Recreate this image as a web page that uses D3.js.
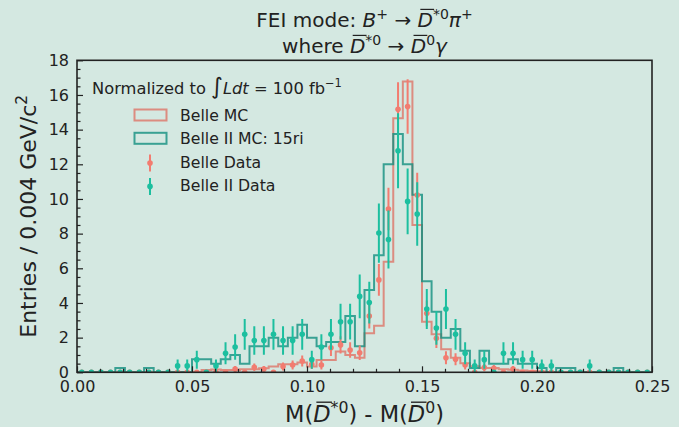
<!DOCTYPE html>
<html><head><meta charset="utf-8">
<script src="https://cdn.jsdelivr.net/npm/d3@7"></script>
<style>
html,body{margin:0;padding:0;background:#d4e8e1;}
svg{display:block;font-family:"DejaVu Sans",sans-serif;}
</style></head><body>
<svg id="chart" width="679" height="427"></svg>
<script>
// ---------------- data ----------------
const xDomain = [0, 0.25];
const nBins = 60;
const yDomain = [0, 18];
const xTicks = [0, 0.05, 0.10, 0.15, 0.20, 0.25];
const xTickLabels = ["0.00", "0.05", "0.10", "0.15", "0.20", "0.25"];
const yTicks = [0, 2, 4, 6, 8, 10, 12, 14, 16, 18];

const belleMC = [0,0,0,0,0,0,0,0,0,0, 0,0,0,0.13,0.16,0.13,0.13,0.17,0.17,0.23,
  0.33,0.46,0.46,0.56,0.33,0.71,0.71,1.2,1.0,0.84, 2.25,2.69,6.38,14.66,16.77,8.5,2.92,2.19,1.33,0.84,
  0.52,0.35,0.25,0.25,0.17,0.15,0.1,0.08,0.05,0, 0,0,0,0,0,0,0,0,0,0];
const belle2MC = [0,0,0,0,0.25,0,0,0.25,0,0, 0,0,0.75,0.75,0.5,0.75,1.0,0.5,1.5,1.5,
  2.0,1.5,2.0,2.75,2.0,1.5,1.75,1.75,3.25,1.5, 4.75,6.75,12.0,13.75,12.0,10.25,5.25,3.5,2.0,2.5,
  1.25,0.25,1.25,0.5,0.5,0.75,0.5,0.5,0.25,0, 0.25,0.25,0,0,0,0,0.25,0,0,0];
const belleData = [0,0,0,0,0,0,0,0,0,0, 0,0,0,0,0,0,0.19,0,0.29,0.19,
  0,0.33,0.42,0.65,0.46,0.42,1.42,1.58,1.29,1.13, 3.25,5.33,9.42,15.17,15.33,10.23,3.40,1.96,0.84,0.75,
  0.42,0,0.27,0.23,0,0.19,0,0,0,0, 0,0,0,0,0,0,0,0,0,0];
const belleErr = [0,0,0,0,0,0,0,0,0,0, 0,0,0,0,0,0,0.17,0,0.22,0.17,
  0,0.23,0.26,0.32,0.27,0.26,0.48,0.5,0.45,0.42, 0.72,0.92,1.23,1.56,1.57,1.28,0.74,0.56,0.37,0.35,
  0.26,0,0.21,0.19,0,0.17,0,0,0,0, 0,0,0,0,0,0,0,0,0,0];
const belle2Data = [0,0,0,0,0,0,0,0,0,0, 0.37,0.37,0.73,0,0.37,1.10,1.46,2.19,1.83,1.83,
  2.19,1.83,1.83,2.19,0.73,1.46,2.19,2.92,2.92,4.38, 4.02,8.03,7.66,12.78,9.86,9.13,3.65,2.56,3.65,2.19,
  1.10,0.37,0.73,0,1.10,1.10,0.73,0.73,0.37,0.37, 0,0,0,0.37,0,0,0,0,0,0];
const belle2Err = [0,0,0,0,0,0,0,0,0,0, 0.37,0.37,0.52,0,0.37,0.63,0.73,0.89,0.82,0.82,
  0.89,0.82,0.82,0.89,0.52,0.73,0.89,1.03,1.03,1.26, 1.21,1.71,1.67,2.16,1.90,1.83,1.15,0.97,1.15,0.89,
  0.63,0.37,0.52,0,0.63,0.63,0.52,0.52,0.37,0.37, 0,0,0,0.37,0,0,0,0,0,0];

// ---------------- layout ----------------
const W = 679, H = 427;
const L = 77, R = 652, T = 60.3, B = 372.3;
const cBelleMC = "#dd7468", cBelle2MC = "#128f80", histAlpha = 0.8;
const cBelleData = "#f27c70", cBelle2Data = "#1cbf9f";
const txt = "#222";

const svg = d3.select("#chart");
svg.append("rect").attr("width", W).attr("height", H).attr("fill", "#d4e8e1");

const x = d3.scaleLinear().domain(xDomain).range([L, R]);
const y = d3.scaleLinear().domain(yDomain).range([B, T]);
const bw = (xDomain[1] - xDomain[0]) / nBins;
const edges = d3.range(nBins + 1).map(i => xDomain[0] + i * bw);
const centers = d3.range(nBins).map(i => xDomain[0] + (i + 0.5) * bw);

svg.append("clipPath").attr("id", "clip").append("rect")
  .attr("x", L).attr("y", T).attr("width", R - L).attr("height", B - T);
const plot = svg.append("g").attr("clip-path", "url(#clip)");

function stepPts(vals) {
  const pts = [[edges[0], 0]];
  vals.forEach((v, i) => { pts.push([edges[i], v]); pts.push([edges[i + 1], v]); });
  pts.push([edges[nBins], 0]);
  return pts;
}
const line = d3.line().x(d => x(d[0])).y(d => y(d[1]));

plot.append("path").attr("d", line(stepPts(belleMC))).attr("fill", "none")
  .attr("stroke", cBelleMC).attr("stroke-opacity", histAlpha).attr("stroke-width", 2);
plot.append("path").attr("d", line(stepPts(belle2MC))).attr("fill", "none")
  .attr("stroke", cBelle2MC).attr("stroke-opacity", histAlpha).attr("stroke-width", 2);

function drawPoints(vals, errs, col) {
  const g = plot.append("g");
  g.selectAll("line").data(vals).join("line")
    .attr("x1", (d, i) => x(centers[i])).attr("x2", (d, i) => x(centers[i]))
    .attr("y1", (d, i) => y(d - errs[i])).attr("y2", (d, i) => y(d + errs[i]))
    .attr("stroke", col).attr("stroke-width", 2);
  g.selectAll("circle").data(vals).join("circle")
    .attr("cx", (d, i) => x(centers[i])).attr("cy", d => y(d)).attr("r", 2.8).attr("fill", col);
}
drawPoints(belleData, belleErr, cBelleData);
drawPoints(belle2Data, belle2Err, cBelle2Data);

// ---------------- axes ----------------
const ax = svg.append("g").attr("transform", `translate(0,${B})`)
  .call(d3.axisBottom(x).tickValues(xTicks).tickFormat((d, i) => xTickLabels[i]).tickSize(-6).tickPadding(8));
const axm = svg.append("g").attr("transform", `translate(0,${B})`)
  .call(d3.axisBottom(x).tickValues(d3.range(0, 26).map(i => i / 100).filter(v => Math.round(v * 100) % 5 !== 0)).tickFormat("").tickSize(-3.5));
const ay = svg.append("g").attr("transform", `translate(${L},0)`)
  .call(d3.axisLeft(y).tickValues(yTicks).tickFormat(d3.format("d")).tickSize(-6).tickPadding(8));
const aym = svg.append("g").attr("transform", `translate(${L},0)`)
  .call(d3.axisLeft(y).tickValues(d3.range(0, 37).map(i => i / 2).filter(v => v % 2 !== 0)).tickFormat("").tickSize(-3.5));
[ax, axm, ay, aym].forEach(a => {
  a.select(".domain").remove();
  a.selectAll(".tick line").attr("stroke", txt).attr("stroke-width", 1.2);
  a.selectAll(".tick text").attr("fill", txt).attr("font-size", 16).attr("font-family", "DejaVu Sans");
});
svg.append("rect").attr("x", L).attr("y", T).attr("width", R - L).attr("height", B - T)
  .attr("fill", "none").attr("stroke", txt).attr("stroke-width", 1.6);

// ---------------- rich text helper ----------------
function rich(parent, x0, y0, parts, size, anchor, rot) {
  const g = parent.append("g");
  if (rot) g.attr("transform", `rotate(${rot},${x0},${y0})`);
  const t = g.append("text").attr("x", x0).attr("y", y0).attr("font-size", size)
    .attr("text-anchor", anchor || "start").attr("fill", txt);
  let shift = 0;
  const ov = [];
  parts.forEach(p => {
    const ts = t.append("tspan").text(p.t);
    const target = p.sup ? -size * 0.42 : 0;
    ts.attr("font-size", p.sup ? size * 0.7 : (p.big ? size * 1.4 : size));
    if (target !== shift) { ts.attr("dy", target - shift); shift = target; }
    if (p.i) ts.attr("font-style", "italic");
    if (p.ov) ov.push(ts);
  });
  ov.forEach(ts => {
    const b = ts.node().getBBox();
    g.append("line").attr("x1", b.x + size * 0.14).attr("x2", b.x + b.width + size * 0.06)
      .attr("y1", y0 - size * 0.88).attr("y2", y0 - size * 0.88)
      .attr("stroke", txt).attr("stroke-width", size * 0.06);
  });
  return g;
}

// title
rich(svg, (L + R) / 2, 27, [
  { t: "FEI mode: " }, { t: "B", i: 1 }, { t: "+", sup: 1 }, { t: " → " },
  { t: "D", i: 1, ov: 1 }, { t: "*0", sup: 1 }, { t: "π", i: 1 }, { t: "+", sup: 1 }
], 20, "middle");
rich(svg, (L + R) / 2, 53, [
  { t: "where " }, { t: "D", i: 1, ov: 1 }, { t: "*0", sup: 1 }, { t: " → " },
  { t: "D", i: 1, ov: 1 }, { t: "0", sup: 1 }, { t: "γ", i: 1 }
], 20, "middle");

// axis labels
rich(svg, (L + R) / 2, 422, [
  { t: "M(" }, { t: "D", i: 1, ov: 1 }, { t: "*0", sup: 1 }, { t: ") - M(" },
  { t: "D", i: 1, ov: 1 }, { t: "0", sup: 1 }, { t: ")" }
], 22.5, "middle");
rich(svg, 36, (T + B) / 2, [
  { t: "Entries / 0.004 GeV/c" }, { t: "2", sup: 1 }
], 22, "middle", -90);

// legend
rich(svg, 92, 94, [
  { t: "Normalized to " }, { t: "∫", big: 1 }, { t: "Ldt", i: 1 }, { t: " = 100 fb" }, { t: "−1", sup: 1 }
], 16.3, "start");
const lg = svg.append("g");
const legItems = [
  { label: "Belle MC", type: "patch", col: cBelleMC },
  { label: "Belle II MC: 15ri", type: "patch", col: cBelle2MC },
  { label: "Belle Data", type: "err", col: cBelleData },
  { label: "Belle II Data", type: "err", col: cBelle2Data }
];
legItems.forEach((d, i) => {
  const by = 121 + i * 23.3;
  if (d.type === "patch") {
    lg.append("rect").attr("x", 134.5).attr("y", by - 11.5).attr("width", 32).attr("height", 11)
      .attr("fill", "none").attr("stroke", d.col).attr("stroke-opacity", histAlpha).attr("stroke-width", 2);
  } else {
    const cy = by - 4.5;
    lg.append("line").attr("x1", 150).attr("x2", 150).attr("y1", cy - 8.5).attr("y2", cy + 8.5)
      .attr("stroke", d.col).attr("stroke-width", 2);
    lg.append("circle").attr("cx", 150).attr("cy", cy).attr("r", 2.8).attr("fill", d.col);
  }
  lg.append("text").attr("x", 180).attr("y", by).attr("font-size", 15.7).attr("fill", txt).text(d.label);
});
</script>
</body></html>
